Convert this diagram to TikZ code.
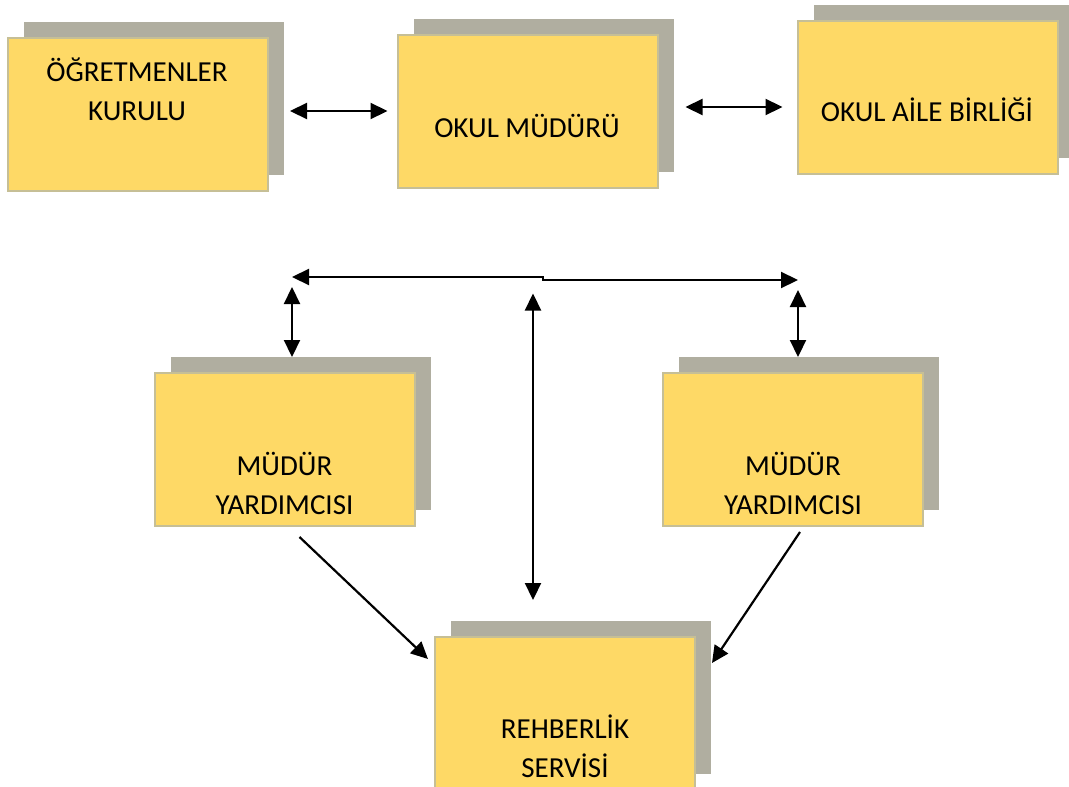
\documentclass[tikz,border=0pt]{standalone}
\usepackage{fontspec}
\setmainfont{Carlito}
\usetikzlibrary{shadows,arrows.meta}
\definecolor{boxyellow}{RGB}{254,217,102}
\definecolor{boxedge}{RGB}{198,191,150}
\definecolor{shadowgray}{RGB}{176,174,160}
\tikzset{
  box/.style={draw=boxedge, line width=2pt, fill=boxyellow, outer sep=0pt,
    minimum width=260pt, minimum height=153pt,
    general shadow={fill=shadowgray, shadow xshift=16pt, shadow yshift=16pt}},
  txt/.style={align=center, font=\fontsize{29}{39}\selectfont},
  arr/.style={line width=2.2pt, -{Triangle[length=17pt,width=16pt]}},
  dbl/.style={line width=2.2pt, {Triangle[length=17pt,width=16pt]}-{Triangle[length=17pt,width=16pt]}}
}
\begin{document}
\begin{tikzpicture}[x=1pt,y=-1pt]
    \useasboundingbox (0,0) rectangle (1069,787);
    % top row
    \node[box] (ogr) at (138,114.5) {};
    \node[txt] (ogrT) at (137,89) {ÖĞRETMENLER\\KURULU};
    \node[box] (mud) at (527.5,111) {};
    \node[txt] (mudT) at (527,126) {OKUL MÜDÜRÜ};
    \node[box] (aile) at (927.5,97) {};
    \node[txt] (aileT) at (927,110) {OKUL AİLE BİRLİĞİ};
    % assistants and guidance
    \foreach \n/\x in {yrd1/284.5,yrd2/793} {
        \node[box] (\n) at (\x,449.5) {};
        \node[txt] (\n T) at (\x,483) {MÜDÜR\\YARDIMCISI};
    }
    \node[box] (reh) at (565,713.5) {};
    \node[txt] (rehT) at (565,746) {REHBERLİK\\SERVİSİ};
    % connectors
    \draw[dbl, shorten <=22pt, shorten >=10pt] (mud.west -| ogr.east) -- (mud.west);
    \draw[dbl, shorten <=28pt, shorten >=15pt] ([yshift=4pt]mud.east) -- ([yshift=4pt]mud.east -| aile.west);
    \coordinate (hub) at (543,278.5);
    \coordinate (barL) at (292,277);
    \coordinate (barR) at (798,280);
    \draw[arr] (hub) |- (barL);
    \draw[arr] (hub) |- (barR);
    \draw[dbl] ([yshift=-10pt]barL) -- ([yshift=16pt]yrd1.north -| barL);
    \draw[dbl] ([yshift=-10pt]barR) -- ([yshift=16pt]yrd2.north -| barR);
    \draw[dbl, shorten >=37pt] ([xshift=-10pt,yshift=-15pt]hub) -- ([xshift=-10pt]hub |- reh.north);
    \draw[arr] ([xshift=15pt,yshift=-11pt]yrd1.south) -- ([xshift=-7pt,yshift=-22pt]reh.north west);
    \draw[arr] ([xshift=7pt,yshift=-6pt]yrd2.south) -- ([xshift=17pt,yshift=-26pt]reh.north east);
\end{tikzpicture}
\end{document}
